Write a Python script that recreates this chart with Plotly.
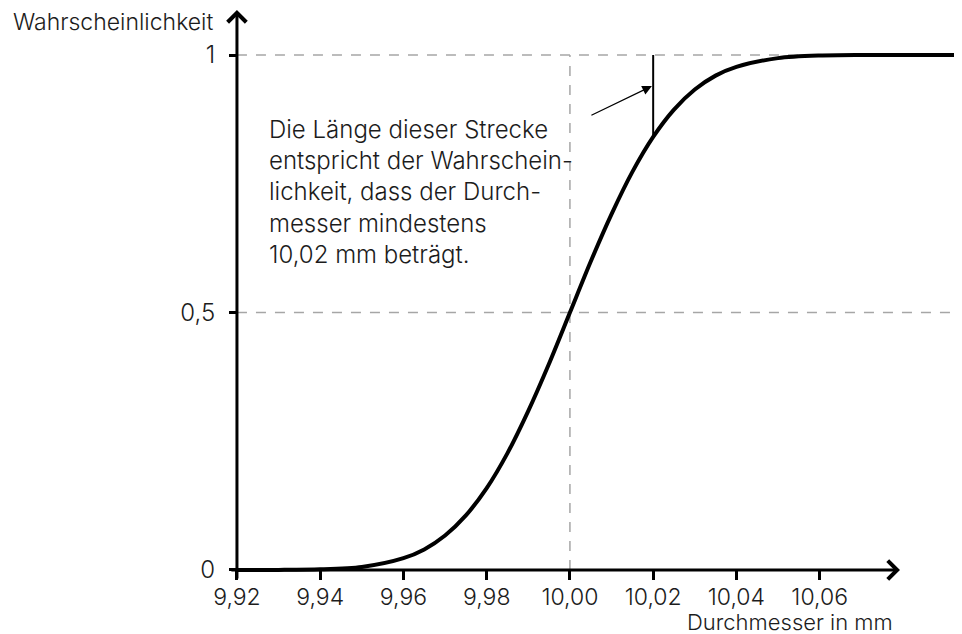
import plotly.graph_objects as go

# ---- data ----
diameter = [9.92, 9.93, 9.94, 9.95, 9.96, 9.965, 9.97, 9.975, 9.98, 9.985, 9.99, 9.995,
            10.00, 10.005, 10.01, 10.015, 10.02, 10.025, 10.03, 10.035, 10.04, 10.05,
            10.06, 10.07, 10.08, 10.095]
probability = [0.000, 0.0002, 0.0013, 0.006, 0.023, 0.040, 0.067, 0.106, 0.159, 0.227,
               0.309, 0.401, 0.500, 0.599, 0.691, 0.773, 0.841, 0.894, 0.933, 0.960,
               0.977, 0.994, 0.999, 1.000, 1.000, 1.000]
x_ticks = [9.92, 9.94, 9.96, 9.98, 10.00, 10.02, 10.04, 10.06]
y_ticks = [0, 0.5, 1]
y_tick_text = ["0", "0,5", "1"]
x_marked = 10.02
x_center = 10.00

# ---- layout geometry (page body adds an 8px offset) ----
W, H = 954, 626
XR = [9.86499, 10.0942]
YR = [-0.1243, 1.0913]
FONT = "Inter"
FS = 24
TXT = "#1c1c1c"
GRAY = "#a6a6a6"

def px_x(v):
    return (v - XR[0]) / (XR[1] - XR[0])

def px_y(v):
    return (v - YR[0]) / (YR[1] - YR[0])

fig = go.Figure()

# dashed guide lines
for yv in [0.5, 1.0]:
    fig.add_shape(type="line", x0=x_ticks[0], x1=XR[1], y0=yv, y1=yv,
                  line=dict(color=GRAY, width=1.5, dash="10px,9px"), layer="below")
fig.add_shape(type="line", x0=x_center, x1=x_center, y0=0, y1=1,
              line=dict(color=GRAY, width=1.5, dash="10px,9px"), layer="below")

# curve
fig.add_trace(go.Scatter(x=diameter, y=probability, mode="lines",
                         line=dict(color="black", width=4, shape="spline", smoothing=0.8),
                         hoverinfo="skip", showlegend=False))

# marked segment at 10,02
y_at_mark = probability[diameter.index(x_marked)]
fig.add_trace(go.Scatter(x=[x_marked, x_marked], y=[y_at_mark, 1.0], mode="lines",
                         line=dict(color="black", width=2), hoverinfo="skip",
                         showlegend=False))

# axes arrows
fig.add_annotation(x=10.0793, y=0, ax=9.9183, ay=0, xref="x", yref="y", axref="x", ayref="y",
                   showarrow=True, arrowhead=4, arrowsize=1.2, arrowwidth=3, arrowcolor="black", text="")
fig.add_annotation(x=x_ticks[0], y=1.0874, ax=x_ticks[0], ay=-0.0194, xref="x", yref="y",
                   axref="x", ayref="y", showarrow=True, arrowhead=4, arrowsize=1.2,
                   arrowwidth=3, arrowcolor="black", text="")

# pointer arrow
fig.add_annotation(x=10.0197, y=0.9398, ax=10.0048, ay=0.8816, xref="x", yref="y",
                   axref="x", ayref="y", showarrow=True, arrowhead=2, arrowsize=1.6,
                   arrowwidth=1.2, arrowcolor="black", text="")

# explanation text
fig.add_annotation(x=9.9272, y=0.888, xref="x", yref="y", showarrow=False,
                   xanchor="left", yanchor="top", align="left",
                   text="Die Länge dieser Strecke<br>entspricht der Wahrschein-<br>lichkeit, dass der Durch-<br>messer mindestens<br>10,02 mm beträgt.",
                   font=dict(family=FONT, size=FS, color=TXT, weight=300))

# axis titles
fig.add_annotation(x=(215 - 8) / W, y=1 - (22 - 8) / H, xref="paper", yref="paper", showarrow=False,
                   xanchor="right", yanchor="middle", text="Wahrscheinlichkeit",
                   font=dict(family=FONT, size=23, color=TXT, weight=300))
fig.add_annotation(x=(895 - 8) / W, y=1 - (622 - 8) / H, xref="paper", yref="paper", showarrow=False,
                   xanchor="right", yanchor="middle", text="Durchmesser in mm",
                   font=dict(family=FONT, size=22, color=TXT, weight=300))

fig.update_layout(
    width=W, height=H, margin=dict(l=0, r=0, t=0, b=0),
    paper_bgcolor="white", plot_bgcolor="white",
    separators=",.",
    showlegend=False,
    xaxis=dict(range=XR, anchor="free", position=px_y(0), showline=False, showgrid=False,
               zeroline=False, tickmode="array", tickvals=x_ticks, tickformat=".2f",
               ticks="outside", ticklen=9, tickwidth=2.5, tickcolor="black",
               ticklabelstandoff=-3,
               tickfont=dict(family=FONT, size=23, color=TXT, weight=300)),
    yaxis=dict(range=YR, anchor="free", position=px_x(x_ticks[0]), showline=False,
               showgrid=False, zeroline=False, tickmode="array", tickvals=y_ticks,
               ticktext=y_tick_text, ticks="outside", ticklen=8, tickwidth=2.5,
               tickcolor="black", ticklabelstandoff=9,
               tickfont=dict(family=FONT, size=FS, color=TXT, weight=300)),
)

fig.write_html("out.html")
